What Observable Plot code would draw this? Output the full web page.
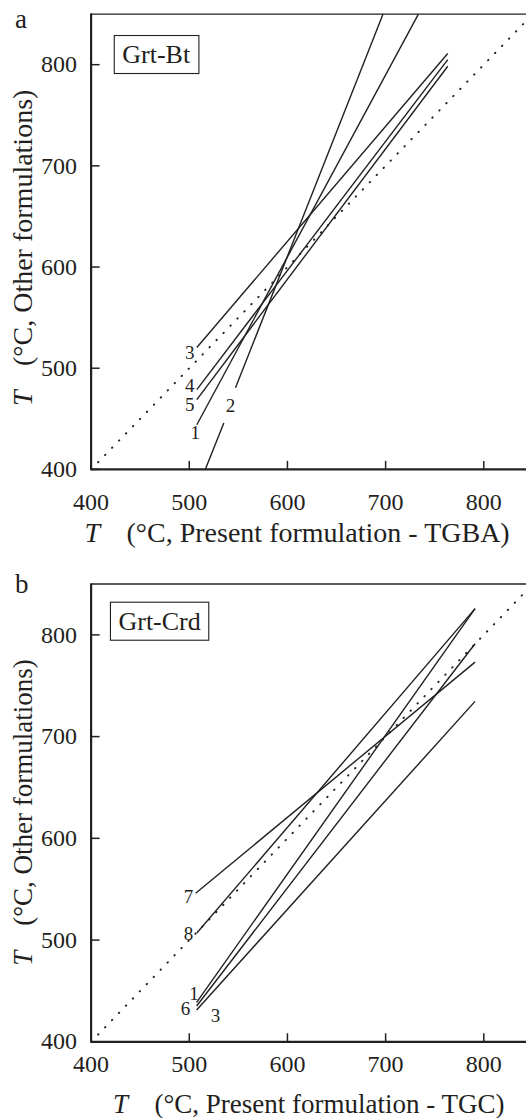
<!DOCTYPE html>
<html>
<head>
<meta charset="utf-8">
<script src="https://cdn.jsdelivr.net/npm/d3@7"></script>
<script src="https://cdn.jsdelivr.net/npm/@observablehq/plot@0.6"></script>
<style>
  html, body { margin: 0; padding: 0; background: #fff; }
  body { width: 526px; height: 1118px; overflow: hidden; }
  #chart svg { display: block; overflow: visible; }
</style>
</head>
<body>
<div id="chart"></div>
<script>
// ---------- shared axes ----------
const xTicks = [400, 500, 600, 700, 800];
const yTicks = [400, 500, 600, 700, 800];
const diag = [400, 850]; // 1:1 reference line (dotted)

// ---------- Panel a : Grt-Bt (TGBA) ----------
const btId = ["1", "2", "2", "3", "4", "5"];
const btX1 = [507.7, 516.3, 547.1, 507.7, 507.7, 507.7];
const btY1 = [444.1, 400.0, 480.6, 520.5, 478.9, 469.0];
const btX2 = [733.4, 535.2, 697.4, 763.3, 763.3, 763.3];
const btY2 = [850.0, 445.8, 850.0, 811.0, 805.0, 798.5];
const btLabels = ["3", "4", "5", "1", "2"];
const btLabelX = [500.5, 500.5, 500.5, 506.0, 542.0];
const btLabelY = [515.5, 482.8, 463.5, 435.8, 462.4];

// ---------- Panel b : Grt-Crd (TGC) ----------
const crdId = ["1", "3", "6", "7", "8"];
const crdX1 = [507.5, 507.5, 507.5, 506.5, 507.7];
const crdY1 = [438.8, 431.3, 435.2, 546.0, 507.0];
const crdX2 = [791.1, 791.1, 791.1, 791.1, 791.1];
const crdY2 = [825.8, 734.6, 791.3, 773.2, 825.8];
const crdLabels = ["7", "8", "1", "6", "3"];
const crdLabelX = [499.2, 499.2, 504.7, 496.2, 526.8];
const crdLabelY = [542.2, 506.2, 447.2, 432.4, 425.9];

const INK = "#231f20";
const FONT = "'Liberation Serif', 'Times New Roman', serif";
const W = 526, ML = 90.6;

function panel(cfg) {
  const segs = cfg.ids.map((id, i) => ({id, x1: cfg.x1[i], y1: cfg.y1[i], x2: cfg.x2[i], y2: cfg.y2[i]}));
  const labs = cfg.labels.map((t, i) => ({t, x: cfg.lx[i], y: cfg.ly[i]}));
  const plotH = cfg.height - cfg.marginTop - cfg.marginBottom;
  const plotW = W - ML;
  return Plot.plot({
    width: W,
    height: cfg.height,
    marginLeft: ML,
    marginRight: 0,
    marginTop: cfg.marginTop,
    marginBottom: cfg.marginBottom,
    x: {domain: [400, 843.5]},
    y: {domain: [400, 850]},
    style: {fontFamily: FONT, background: "white", color: INK, overflow: "visible"},
    marks: [
      Plot.link([diag], {x1: d => d[0], y1: d => d[0], x2: d => d[1], y2: d => d[1],
        stroke: INK, strokeWidth: 1.9, strokeDasharray: "0.5 9.5", strokeLinecap: "round"}),
      Plot.link(segs, {x1: "x1", y1: "y1", x2: "x2", y2: "y2", stroke: INK, strokeWidth: 1.4}),
      Plot.text(labs, {x: "x", y: "y", text: "t", fontSize: 19, fill: INK}),
      Plot.tickX(xTicks, {x: d => d, insetTop: plotH - 8, stroke: INK, strokeWidth: 1.5}),
      Plot.tickY(yTicks, {y: d => d, insetRight: plotW - 9, stroke: INK, strokeWidth: 1.5}),
      Plot.ruleX([400], {stroke: INK, strokeWidth: 2.2}),
      Plot.ruleY([400], {stroke: INK, strokeWidth: 2.2}),
      Plot.ruleY([850], {stroke: INK, strokeWidth: 1.3}),
      Plot.axisX(xTicks, {tickSize: 0, tickPadding: cfg.xPad, fontSize: 24, label: null, fill: INK}),
      Plot.axisY(yTicks, {tickSize: 0, tickPadding: 14, fontSize: 24, label: null, fill: INK}),
      Plot.text([cfg.name], {frameAnchor: "top-left", dx: cfg.nameDx, dy: cfg.nameDy,
        textAnchor: "middle", lineAnchor: "middle", fontSize: 26, fill: INK})
    ]
  });
}

function decorate(svg, cfg) {
  const s = d3.select(svg);
  // box around the mineral-pair name
  s.selectAll("text").filter(function() { return this.textContent === cfg.name; }).each(function() {
    const bb = this.getBBox();
    const cy = bb.y + bb.height / 2;
    d3.select(this.parentNode).insert("rect", ":first-child")
      .attr("transform", this.getAttribute("transform"))
      .attr("x", bb.x - 8).attr("y", cy - 19)
      .attr("width", bb.width + 16).attr("height", 38)
      .attr("fill", "none").attr("stroke", INK).attr("stroke-width", 1.1);
  });
  const g = s.append("g").attr("fill", INK).attr("font-family", FONT).attr("text-anchor", "start");
  const xt = g.append("text").attr("y", cfg.xBase).attr("font-size", cfg.fs);
  xt.append("tspan").attr("x", cfg.xT).attr("font-style", "italic").text("T");
  xt.append("tspan").attr("x", cfg.xP).text(cfg.xLabel);
  const yt = g.append("text").attr("font-size", cfg.fs)
    .attr("transform", `translate(${cfg.yBase},${cfg.yStart}) rotate(-90)`);
  yt.append("tspan").attr("x", 0).attr("font-style", "italic").text("T");
  yt.append("tspan").attr("x", cfg.yP).text("(°C, Other formulations)");
  g.append("text").attr("x", 15).attr("y", cfg.letterY).attr("font-size", 27).text(cfg.letter);
}

const chart = document.getElementById("chart");

const cfgA = {
  height: 560, marginTop: 13.6, marginBottom: 91.1,
  ids: btId, x1: btX1, y1: btY1, x2: btX2, y2: btY2,
  labels: btLabels, lx: btLabelX, ly: btLabelY,
  xPad: 24, name: "Grt-Bt", nameDx: 65.1, nameDy: 40.6,
  xBase: 541.7, xT: 84.5, xP: 126.5, xLabel: "(°C, Present formulation - TGBA)",
  yBase: 32, yStart: 406, yP: 40, fs: 28,
  letter: "a", letterY: 27.5
};
const cfgB = {
  height: 558, marginTop: 23.5, marginBottom: 76.7,
  ids: crdId, x1: crdX1, y1: crdY1, x2: crdX2, y2: crdY2,
  labels: crdLabels, lx: crdLabelX, ly: crdLabelY,
  xPad: 13.5, name: "Grt-Crd", nameDx: 68.5, nameDy: 37.4,
  xBase: 552.5, xT: 113, xP: 154.5, xLabel: "(°C, Present formulation - TGC)",
  yBase: 32, yStart: 405.8, yP: 40, fs: 27,
  letter: "b", letterY: 33
};

for (const cfg of [cfgA, cfgB]) {
  const svg = panel(cfg);
  chart.appendChild(svg);
  decorate(svg, cfg);
}
</script>
</body>
</html>
